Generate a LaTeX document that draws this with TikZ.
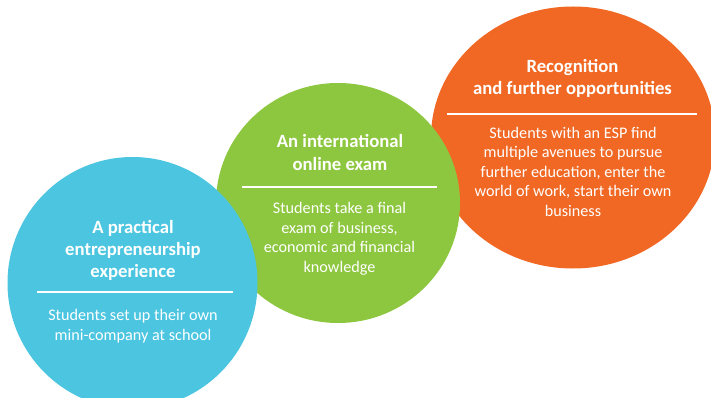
\documentclass[tikz,border=0pt]{standalone}
\usepackage{fontspec}
\setmainfont{Carlito}
\usetikzlibrary{shapes.geometric}
\definecolor{cblue}{HTML}{4BC5E0}
\definecolor{cgreen}{HTML}{8DC63F}
\definecolor{corange}{HTML}{F06823}
\tikzset{
  disc/.style={ellipse, fill=#1, draw=none, inner sep=0pt},
  title/.style={text=white, font=\fontsize{18.7}{22}\selectfont\bfseries, align=center, anchor=base, inner sep=0pt},
  body/.style={text=white, font=\fontsize{16.2}{19.5}\selectfont, align=center, anchor=base, inner sep=0pt},
  rule/.style={draw=white, line width=1.8pt}
}
\begin{document}
\begin{tikzpicture}[x=1pt,y=-1pt]
\useasboundingbox (0,0) rectangle (711,398);
\clip (0,0) rectangle (711,398);
% circles
\node[disc=corange, minimum width=284pt, minimum height=262pt] (orange) at (573,137.5) {};
\node[disc=cgreen, minimum width=244pt, minimum height=240pt] (green) at (338,203) {};
\node[disc=cblue, minimum width=250pt, minimum height=252pt] (blue) at (132.5,283) {};
% orange texts (base anchor = last line baseline)
\node[title] (otitle) at (572.5,95) {Recognition\\and further opportunities};
\coordinate (ol1) at (447,114);
\coordinate (ol2) at (697,114);
\draw[rule] (ol1) -- (ol2);
\node[body] (obody) at (573,216) {Students with an ESP find\\multiple avenues to pursue\\further education, enter the\\world of work, start their own\\business};
% green texts
\node[title] (gtitle) at (340,170) {An international\\online exam};
\coordinate (gl1) at (242,187);
\coordinate (gl2) at (437,187);
\draw[rule] (gl1) -- (gl2);
\node[body] (gbody) at (339.5,272) {Students take a final\\exam of business,\\economic and financial\\knowledge};
% blue texts
\node[title] (btitle) at (133,277) {A practical\\entrepreneurship\\experience};
\coordinate (bl1) at (37,292);
\coordinate (bl2) at (233,292);
\draw[rule] (bl1) -- (bl2);
\node[body] (bbody) at (133,340) {Students set up their own\\mini-company at school};
\end{tikzpicture}
\end{document}
